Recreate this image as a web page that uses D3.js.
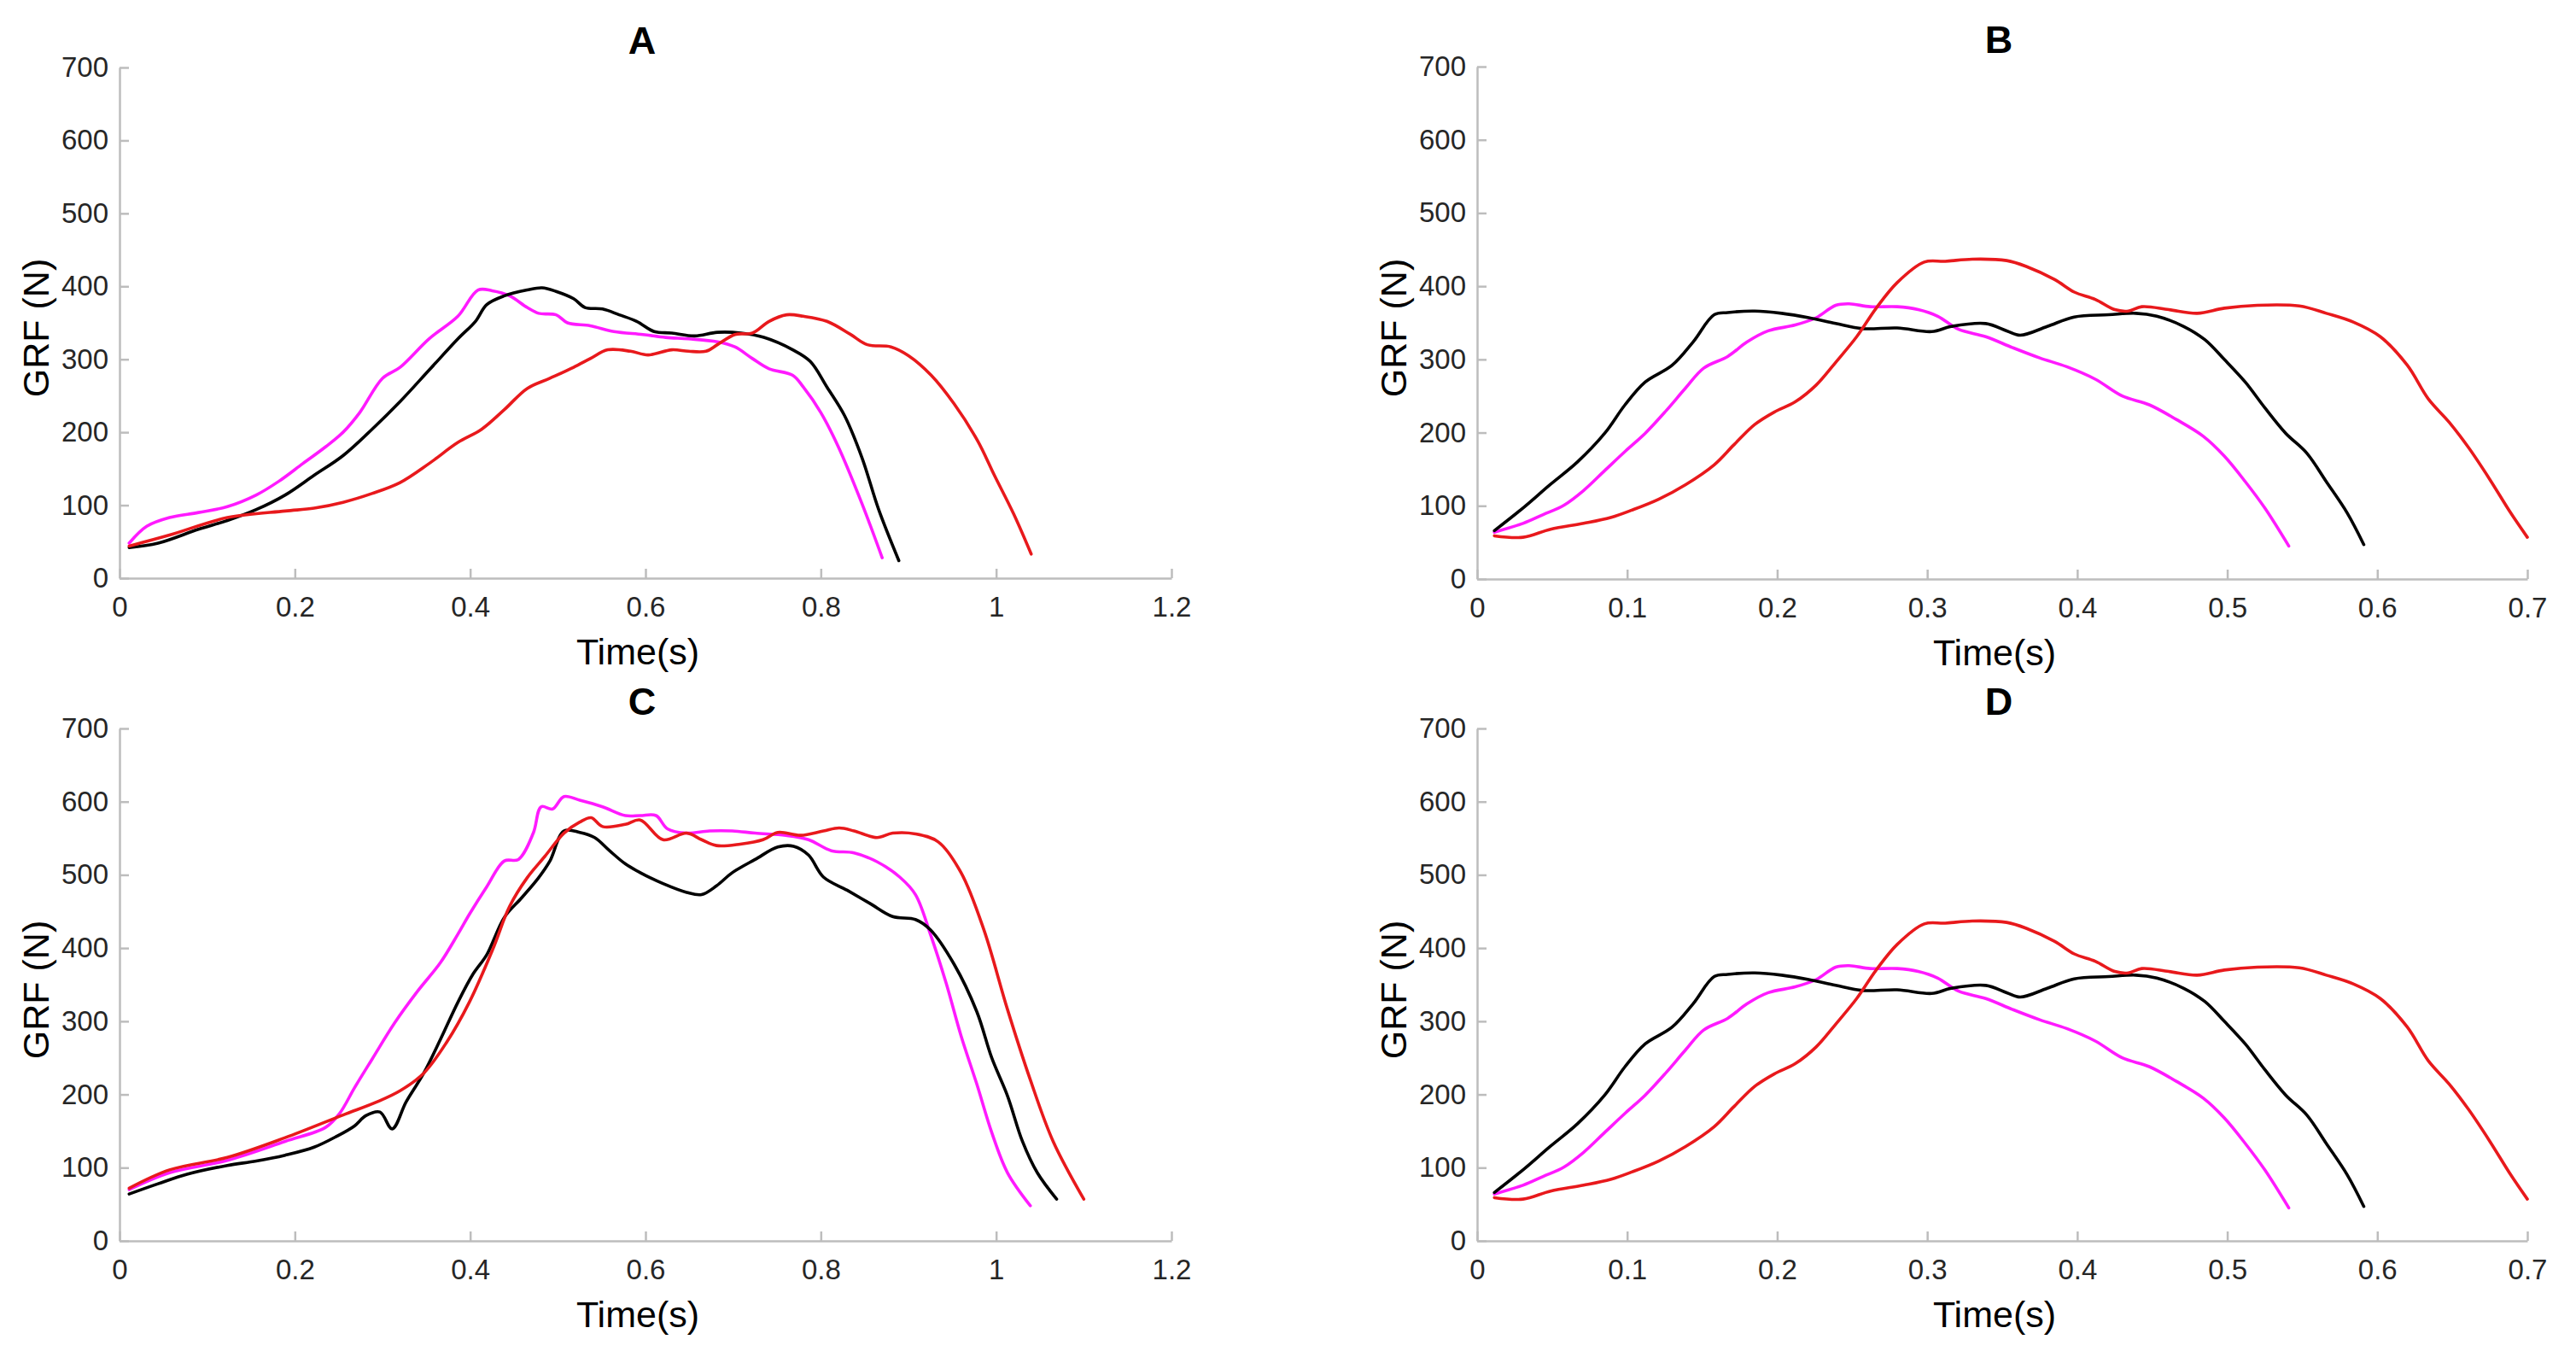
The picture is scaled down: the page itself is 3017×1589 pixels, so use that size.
<!DOCTYPE html>
<meta charset="utf-8">
<html>
<head>
  <script src="https://d3js.org/d3.v7.min.js"></script>
  <style>
    body { margin: 0; background: #fff; }
    .axis text { font-family: 'Liberation Sans', Arial, sans-serif; font-size: 33px; fill: #262626; }
    .axis path, .axis line { stroke: #bdbdbd; stroke-width: 2.5; }
    .label { font-family: 'Liberation Sans', Arial, sans-serif; font-size: 43px; fill: #000; }
    .title { font-family: 'Liberation Sans', Arial, sans-serif; font-size: 45px; font-weight: bold; fill: #000; }
    .curve { fill: none; stroke-width: 3.6; stroke-linejoin: round; stroke-linecap: round; }
  </style>
</head>
<body>
<script>
// tick values
var yTicks = [0, 100, 200, 300, 400, 500, 600, 700];
var xTicksLong = [0, 0.2, 0.4, 0.6, 0.8, 1, 1.2];
var xTicksShort = [0, 0.1, 0.2, 0.3, 0.4, 0.5, 0.6, 0.7];

// panel A  [time, GRF]
var aMagenta = [[0.011,48],[0.031,71],[0.057,83],[0.09,90],[0.123,98],[0.156,114],[0.182,133],[0.209,157],[0.235,180],[0.255,200],[0.274,227],[0.3,274],[0.32,289],[0.353,328],[0.386,359],[0.409,395],[0.425,394],[0.445,387],[0.465,371],[0.478,363],[0.498,361],[0.511,350],[0.537,346],[0.564,338],[0.597,334],[0.623,330],[0.649,328],[0.682,324],[0.702,317],[0.722,301],[0.741,287],[0.768,278],[0.78,262],[0.8,227],[0.82,180],[0.847,102],[0.87,28]];
var aBlack = [[0.011,42],[0.044,48],[0.09,67],[0.123,79],[0.156,94],[0.189,114],[0.222,141],[0.255,168],[0.288,204],[0.32,242],[0.353,285],[0.386,328],[0.406,352],[0.419,375],[0.439,387],[0.465,395],[0.482,398],[0.498,393],[0.518,383],[0.531,371],[0.551,369],[0.57,361],[0.59,352],[0.61,338],[0.63,336],[0.656,332],[0.682,337],[0.709,336],[0.735,330],[0.768,313],[0.788,297],[0.807,262],[0.827,223],[0.847,165],[0.866,94],[0.889,24]];
var aRed = [[0.011,44],[0.057,59],[0.123,83],[0.189,92],[0.222,96],[0.255,104],[0.288,116],[0.32,131],[0.353,157],[0.386,186],[0.413,204],[0.439,231],[0.465,260],[0.491,274],[0.518,289],[0.537,301],[0.557,313],[0.583,311],[0.603,306],[0.63,313],[0.649,311],[0.669,311],[0.682,320],[0.702,334],[0.722,336],[0.741,352],[0.761,361],[0.78,359],[0.807,352],[0.834,334],[0.853,320],[0.88,317],[0.9,305],[0.926,278],[0.952,239],[0.979,188],[0.998,141],[1.02,88],[1.04,33]];

// panel B (panel D shows the same traces)
var bMagenta = [[0.0115,64],[0.0306,76],[0.044,88],[0.058,101],[0.071,121],[0.085,148],[0.099,175],[0.112,199],[0.126,230],[0.139,261],[0.151,288],[0.167,304],[0.18,324],[0.194,339],[0.212,347],[0.226,357],[0.239,374],[0.248,376],[0.262,372],[0.28,372],[0.294,368],[0.307,359],[0.321,341],[0.339,331],[0.357,316],[0.375,302],[0.393,290],[0.412,273],[0.43,250],[0.448,238],[0.466,218],[0.484,195],[0.498,168],[0.512,133],[0.525,97],[0.541,45]];
var bBlack = [[0.0115,66],[0.0306,97],[0.0487,129],[0.0669,160],[0.085,199],[0.0986,238],[0.112,269],[0.13,292],[0.144,324],[0.158,361],[0.167,364],[0.185,366],[0.203,363],[0.221,357],[0.239,349],[0.257,342],[0.28,343],[0.303,338],[0.316,345],[0.339,349],[0.353,339],[0.362,333],[0.38,345],[0.398,358],[0.421,361],[0.439,363],[0.453,359],[0.471,345],[0.485,327],[0.498,300],[0.512,269],[0.525,234],[0.539,199],[0.553,172],[0.566,133],[0.58,90],[0.591,47]];
var bRed = [[0.0115,59],[0.0306,57],[0.049,68],[0.071,76],[0.089,84],[0.103,94],[0.121,109],[0.139,129],[0.158,156],[0.171,183],[0.185,211],[0.198,228],[0.212,242],[0.226,265],[0.239,296],[0.253,331],[0.266,370],[0.28,405],[0.298,433],[0.312,434],[0.33,437],[0.353,435],[0.366,427],[0.385,409],[0.398,392],[0.412,382],[0.425,368],[0.434,366],[0.443,372],[0.461,368],[0.48,363],[0.498,370],[0.52,374],[0.548,373],[0.566,363],[0.584,351],[0.602,331],[0.62,292],[0.634,246],[0.648,214],[0.661,179],[0.675,136],[0.689,90],[0.7,57]];

// panel C
var cMagenta = [[0.011,70],[0.057,93],[0.123,110],[0.189,136],[0.235,155],[0.251,174],[0.268,209],[0.288,248],[0.314,298],[0.34,341],[0.366,380],[0.386,419],[0.399,446],[0.419,484],[0.439,519],[0.455,521],[0.472,557],[0.481,593],[0.494,590],[0.507,607],[0.525,602],[0.551,593],[0.577,581],[0.594,581],[0.612,581],[0.625,563],[0.647,557],[0.673,560],[0.699,560],[0.725,557],[0.76,554],[0.786,548],[0.812,533],[0.838,530],[0.864,518],[0.89,497],[0.908,473],[0.925,419],[0.943,352],[0.96,280],[0.978,214],[0.995,148],[1.013,93],[1.039,48]];
var cBlack = [[0.011,64],[0.044,78],[0.077,91],[0.123,103],[0.156,109],[0.189,117],[0.222,128],[0.248,143],[0.268,157],[0.281,171],[0.297,176],[0.311,153],[0.327,190],[0.347,229],[0.366,275],[0.386,326],[0.403,364],[0.419,391],[0.439,442],[0.459,469],[0.478,496],[0.491,519],[0.507,560],[0.525,558],[0.542,551],[0.559,533],[0.577,515],[0.594,503],[0.62,488],[0.647,476],[0.664,473],[0.681,485],[0.699,503],[0.725,521],[0.751,538],[0.769,539],[0.786,527],[0.803,497],[0.83,479],[0.856,461],[0.882,443],[0.908,439],[0.925,425],[0.952,378],[0.978,313],[0.995,250],[1.013,198],[1.03,136],[1.047,93],[1.069,57]];
var cRed = [[0.011,72],[0.057,97],[0.123,114],[0.189,141],[0.255,172],[0.294,190],[0.32,205],[0.347,229],[0.373,271],[0.399,326],[0.426,399],[0.445,457],[0.465,496],[0.485,525],[0.507,557],[0.525,572],[0.538,578],[0.551,566],[0.577,569],[0.594,575],[0.62,548],[0.647,557],[0.664,548],[0.681,540],[0.708,542],[0.734,548],[0.751,558],[0.777,554],[0.803,560],[0.821,564],[0.838,560],[0.864,551],[0.882,557],[0.908,556],[0.934,545],[0.96,503],[0.986,425],[1.013,316],[1.039,220],[1.065,136],[1.1,57]];

var magenta = "#ff1aff", black = "#000000", red = "#e8191c";

var panels = [
  { title: "A", left: 140, right: 1372, top: 79, bottom: 677, xMax: 1.2, xTicks: xTicksLong, series: [aMagenta, aBlack, aRed] },
  { title: "B", left: 1730, right: 2960, top: 78, bottom: 678, xMax: 0.7, xTicks: xTicksShort, series: [bMagenta, bBlack, bRed] },
  { title: "C", left: 140, right: 1372, top: 853, bottom: 1453, xMax: 1.2, xTicks: xTicksLong, series: [cMagenta, cBlack, cRed] },
  { title: "D", left: 1730, right: 2960, top: 853, bottom: 1453, xMax: 0.7, xTicks: xTicksShort, series: [bMagenta, bBlack, bRed] }
];
var colors = [magenta, black, red];

var svg = d3.select("body").append("svg")
  .attr("width", 3017)
  .attr("height", 1589);

panels.forEach(function(p) {
  var x = d3.scaleLinear().domain([0, p.xMax]).range([p.left, p.right]);
  var y = d3.scaleLinear().domain([0, 700]).range([p.bottom, p.top]);
  var g = svg.append("g");

  //X axis
  g.append("g")
    .attr("class", "axis")
    .attr("transform", `translate(0, ${p.bottom})`)
    .call(d3.axisBottom(x)
      .tickValues(p.xTicks)
      .tickFormat(d => String(d))
      .tickSizeInner(-11)
      .tickSizeOuter(0)
      .tickPadding(22));

  //Y axis
  g.append("g")
    .attr("class", "axis")
    .attr("transform", `translate(${p.left}, 0)`)
    .call(d3.axisLeft(y)
      .tickValues(yTicks)
      .tickSizeInner(-11)
      .tickSizeOuter(0)
      .tickPadding(13));

  //Lines
  var line = d3.line()
    .x(d => x(d[0]))
    .y(d => y(d[1]))
    .curve(d3.curveCatmullRom.alpha(0.5));

  p.series.forEach(function(s, i) {
    g.append("path")
      .attr("class", "curve")
      .attr("stroke", colors[i])
      .attr("d", line(s));
  });

  var cx = (p.left + p.right) / 2;

  //Titles and labels
  g.append("text")
    .attr("class", "title")
    .attr("x", cx - 4)
    .attr("y", p.top - 16)
    .attr("text-anchor", "middle")
    .text(p.title);

  g.append("text")
    .attr("class", "label")
    .attr("x", cx - 9)
    .attr("y", p.bottom + 101)
    .attr("text-anchor", "middle")
    .text("Time(s)");

  g.append("text")
    .attr("class", "label")
    .attr("transform", `translate(${p.left - 83}, ${(p.top + p.bottom) / 2 + 6}) rotate(-90)`)
    .attr("text-anchor", "middle")
    .text("GRF (N)");
});
</script>
</body>
</html>
